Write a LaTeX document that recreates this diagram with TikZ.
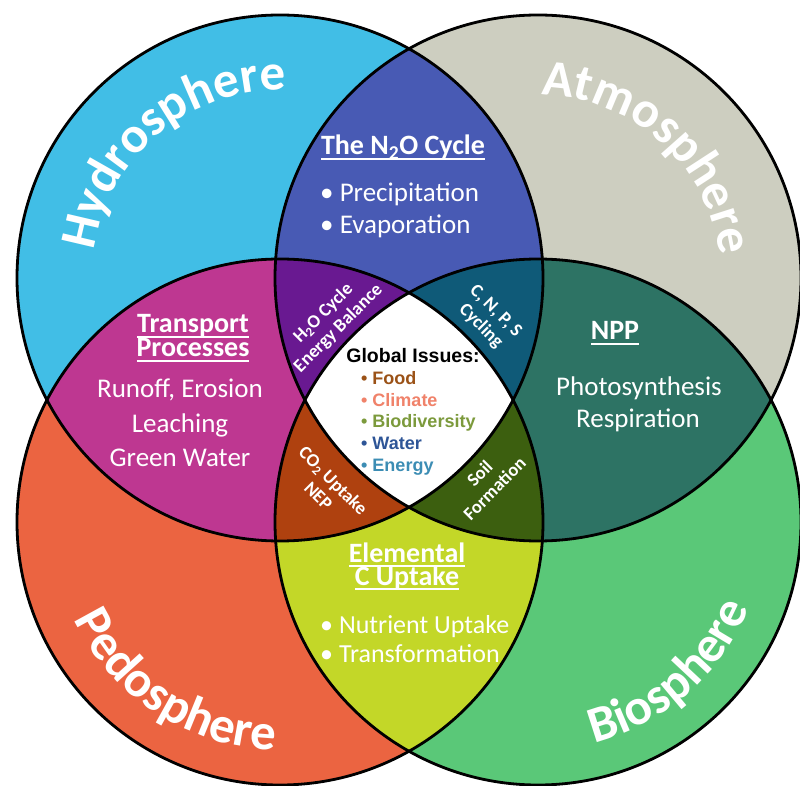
\documentclass[tikz,border=0pt]{standalone}
\usepackage{fontspec}
\setmainfont{Carlito}
\newfontfamily\issuefont{Liberation Sans}
\usetikzlibrary{decorations.text}

% sphere colours
\definecolor{hydrocol}{RGB}{65,190,230}
\definecolor{atmocol}{RGB}{205,206,192}
\definecolor{pedocol}{RGB}{235,100,65}
\definecolor{biocol}{RGB}{90,200,120}
% two-sphere overlaps
\definecolor{nocyccol}{RGB}{72,90,180}
\definecolor{transcol}{RGB}{190,55,145}
\definecolor{nppcol}{RGB}{45,115,100}
\definecolor{elemcol}{RGB}{195,215,40}
% three-sphere overlaps
\definecolor{hocyccol}{RGB}{105,25,145}
\definecolor{cnpscol}{RGB}{15,90,120}
\definecolor{cocol}{RGB}{175,65,15}
\definecolor{soilcol}{RGB}{60,95,15}
% global issues
\definecolor{foodcol}{RGB}{155,82,23}
\definecolor{climcol}{RGB}{240,130,106}
\definecolor{biodcol}{RGB}{124,154,60}
\definecolor{watercol}{RGB}{46,85,151}
\definecolor{energycol}{RGB}{60,141,180}

\newcommand{\sphrad}{263}
\newcommand{\spherefont}{\bfseries\fontsize{51}{51}\selectfont}
% underline at a fixed depth below the baseline
\newcommand{\ultext}[1]{\setbox0\hbox{#1}\rlap{\vrule height -3pt depth 5pt width \wd0}\box0}

\tikzset{
  circleline/.style={draw=black, line width=2.8pt},
  heading/.style={text=white, anchor=base, inner sep=0pt,
    font=\bfseries\fontsize{28}{28}\selectfont},
  bodytext/.style={text=white, anchor=base, inner sep=0pt, font=\fontsize{27}{27}\selectfont},
  bullettext/.style={bodytext, anchor=base west},
  corner/.style={text=white, align=center, inner sep=0pt, font=\bfseries\fontsize{18.5}{21}\selectfont},
  issue/.style={anchor=base west, inner sep=0pt, font=\issuefont\bfseries\fontsize{18}{20}\selectfont},
  spherelabel/.style={decorate, decoration={text along path, text align=center,
    text color=white, text={|\spherefont|#1}}}
}

\begin{document}
\begin{tikzpicture}[x=1pt, y=1pt]
    \useasboundingbox (0,0) rectangle (800,785);
    \fill[white] (0,0) rectangle (800,785);

    % Sphere centres
    \coordinate (hydro) at (280,507);
    \coordinate (atmo) at (538,507);
    \coordinate (pedo) at (280,263);
    \coordinate (bio) at (538,263);

    % Single spheres
    \foreach \c/\col in {hydro/hydrocol, atmo/atmocol, pedo/pedocol, bio/biocol}
        \fill[\col] (\c) circle[radius=\sphrad];

    % Two spheres
    \foreach \a/\b/\col in {hydro/atmo/nocyccol, hydro/pedo/transcol, atmo/bio/nppcol, pedo/bio/elemcol} {
        \begin{scope}
            \clip (\a) circle[radius=\sphrad];
            \fill[\col] (\b) circle[radius=\sphrad];
        \end{scope}
    }

    % Three spheres
    \foreach \a/\b/\c/\col in {hydro/atmo/pedo/hocyccol, hydro/atmo/bio/cnpscol, hydro/pedo/bio/cocol, atmo/pedo/bio/soilcol} {
        \begin{scope}
            \clip (\a) circle[radius=\sphrad];
            \clip (\b) circle[radius=\sphrad];
            \fill[\col] (\c) circle[radius=\sphrad];
        \end{scope}
    }

    % All four
    \begin{scope}
        \clip (hydro) circle[radius=\sphrad];
        \clip (atmo) circle[radius=\sphrad];
        \clip (pedo) circle[radius=\sphrad];
        \fill[white] (bio) circle[radius=\sphrad];
    \end{scope}

    \foreach \c in {hydro, atmo, pedo, bio}
        \draw[circleline] (\c) circle[radius=\sphrad];

    % Sphere names along the rims
    \path[spherelabel=Hydrosphere] ([shift={(185:188)}]hydro) arc[start angle=185, end angle=75, radius=188];
    \path[spherelabel=Atmosphere] ([shift={(103:183)}]atmo) arc[start angle=103, end angle=-7, radius=183];
    \path[spherelabel=Pedosphere] ([shift={(182:228)}]pedo) arc[start angle=182, end angle=292, radius=228];
    \path[spherelabel=Biosphere] ([shift={(256:228)}]bio) arc[start angle=256, end angle=366, radius=228];

    % Hydrosphere + Atmosphere
    \node[heading] (nocyc) at (403,630) {\ultext{The N\textsubscript{2}O Cycle}};
    \node[bullettext] (precip) at (320,583) {\textbullet\ Precipitation};
    \node[bullettext] (evap) at (320,551) {\textbullet\ Evaporation};

    % Hydrosphere + Pedosphere
    \node[heading] (trans) at (193,452) {\ultext{Transport}};
    \node[heading] (proc) at (193,428) {\ultext{Processes}};
    \node[bodytext] (runoff) at (180,387) {Runoff, Erosion};
    \node[bodytext] (leach) at (180,352) {Leaching};
    \node[bodytext] (green) at (180,318) {Green Water};

    % Atmosphere + Biosphere
    \node[heading] (npp) at (615,445) {\ultext{NPP}};
    \node[bodytext] (photo) at (639,389) {Photosynthesis};
    \node[bodytext] (resp) at (638,357) {Respiration};

    % Pedosphere + Biosphere
    \node[heading] (elem) at (407,223) {\ultext{Elemental}};
    \node[heading] (cupt) at (407,200) {\ultext{C Uptake}};
    \node[bullettext, font=\fontsize{26}{26}\selectfont] (nutr) at (320,152) {\textbullet\ Nutrient Uptake};
    \node[bullettext, font=\fontsize{26}{26}\selectfont] (transf) at (320,123) {\textbullet\ Transformation};

    % Three-sphere corners
    \node[corner, rotate=45] (hocyc) at (331,464) {H\textsubscript{2}O Cycle\\Energy Balance};
    \node[corner, rotate=-45] (cnps) at (488,466) {C, N, P, S\\Cycling};
    \node[corner, rotate=-45] (coupt) at (326,297) {CO\textsubscript{2} Uptake\\NEP};
    \node[corner, rotate=45] (soil) at (487,304) {Soil\\Formation};

    % Global issues
    \node[issue, anchor=base, font=\issuefont\bfseries\fontsize{19.5}{20}\selectfont] (global) at (413,422) {Global Issues:};
    \foreach \y/\name/\col in {400/Food/foodcol, 378/Climate/climcol, 357/Biodiversity/biodcol,
                               335/Water/watercol, 313/Energy/energycol}
        \node[issue, text=\col] (issue\name) at (361,\y) {\textbullet\ \name};

\end{tikzpicture}
\end{document}
